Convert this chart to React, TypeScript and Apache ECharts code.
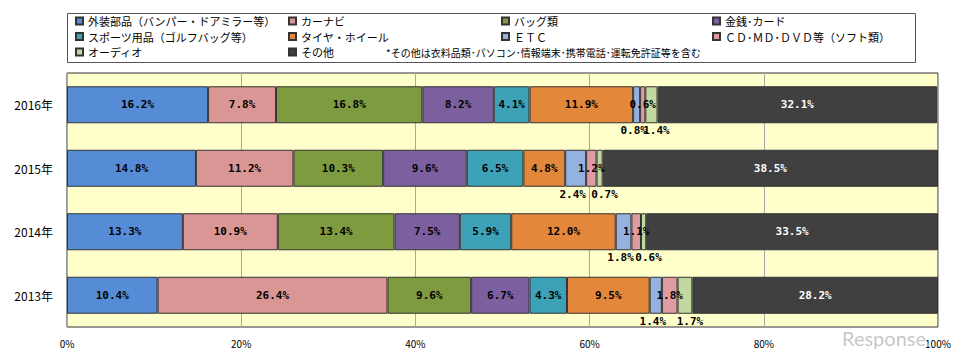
import React, { useEffect, useRef } from "react";
import * as echarts from "echarts";

const years = ["2016年", "2015年", "2014年", "2013年"];
const exterior = [16.2, 14.8, 13.3, 10.4];
const carNavi = [7.8, 11.2, 10.9, 26.4];
const bags = [16.8, 10.3, 13.4, 9.6];
const money = [8.2, 9.6, 7.5, 6.7];
const sports = [4.1, 6.5, 5.9, 4.3];
const tires = [11.9, 4.8, 12.0, 9.5];
const etcDevices = [0.8, 2.4, 1.8, 1.4];
const media = [0.6, 1.2, 1.1, 1.8];
const audio = [1.4, 0.7, 0.6, 1.7];
const other = [32.1, 38.5, 33.5, 28.2];

const names = [
  "外装部品（バンパー・ドアミラー等）",
  "カーナビ",
  "バッグ類",
  "金銭･カード",
  "スポーツ用品（ゴルフバッグ等）",
  "タイヤ・ホイール",
  "ＥＴＣ",
  "ＣＤ･ＭＤ･ＤＶＤ等（ソフト類）",
  "オーディオ",
  "その他",
];
const values = [exterior, carNavi, bags, money, sports, tires, etcDevices, media, audio, other];
const colors = [
  "#568CD6",
  "#D99694",
  "#7E9B40",
  "#7C5F9F",
  "#3DA1B8",
  "#E3873A",
  "#95B1DD",
  "#DE9CA2",
  "#C3D89E",
  "#404040",
];
const labelPos = ["inside", "inside", "inside", "inside", "inside", "inside", "bottom", "inside", "bottom", "inside"];
const labelShift = [0, 0, 0, 0, 0, 0, -3, 0, 5, 0];
const noteText = "*その他は衣料品類･パソコン･情報端末･携帯電話･運転免許証等を含む";

export default function App() {
  const ref = useRef<HTMLDivElement>(null);
  useEffect(() => {
    if (!ref.current) return;
    const chart = echarts.init(ref.current, undefined, { renderer: "svg" });
    const legendCols = [
      { left: 75, items: [names[0], names[4], names[8]] },
      { left: 288, items: [names[1], names[5], names[9]] },
      { left: 501, items: [names[2], names[6]] },
      { left: 712, items: [names[3], names[7]] },
    ];
    chart.setOption({
      animation: false,
      backgroundColor: "#ffffff",
      textStyle: { fontFamily: "Noto Sans CJK JP" },
      legend: legendCols.map((c) => ({
        data: c.items,
        left: c.left,
        top: 14,
        orient: "vertical",
        padding: 0,
        itemGap: 1.5,
        itemWidth: 7,
        itemHeight: 7,
        icon: "rect",
        selectedMode: false,
        textStyle: { fontSize: 11, color: "#000", lineHeight: 14, fontFamily: "Noto Sans CJK JP" },
      })),
      graphic: [
        {
          type: "rect",
          shape: { x: 67.5, y: 13.5, width: 848, height: 49 },
          style: { fill: "none", stroke: "#555", lineWidth: 1 },
        },
        {
          type: "text",
          x: 386,
          y: 52,
          style: {
            text: noteText,
            fontSize: 10,
            fill: "#000",
            fontFamily: "Noto Sans CJK JP",
            verticalAlign: "middle",
          },
        },
        {
          type: "text",
          x: 842,
          y: 338,
          z: 10,
          style: {
            text: "Response.",
            fontSize: 20,
            fill: "#bdbdbd",
            fontFamily: "Lato",
            verticalAlign: "middle",
            opacity: 0.85,
          },
        },
      ],
      grid: {
        left: 67,
        right: 30,
        top: 73,
        bottom: 32,
        show: true,
        backgroundColor: "#FFFFCC",
        borderColor: "#333",
        borderWidth: 1,
      },
      xAxis: {
        type: "value",
        min: 0,
        max: 100,
        interval: 20,
        axisLine: { show: false },
        axisTick: { show: false },
        splitLine: { show: true, lineStyle: { color: "#A8A8A8", width: 1 } },
        axisLabel: { formatter: "{value}%", fontSize: 10, color: "#000", margin: 11, fontFamily: "Noto Sans CJK JP" },
      },
      yAxis: {
        type: "category",
        data: years,
        inverse: true,
        axisLine: { show: false },
        axisTick: { show: false },
        axisLabel: { fontSize: 12, color: "#000", margin: 14, fontFamily: "Noto Sans CJK JP" },
      },
      series: names.map((n, i) => ({
        name: n,
        type: "bar",
        stack: "total",
        barWidth: 37,
        data: values[i],
        itemStyle: { color: colors[i], borderColor: "#333", borderWidth: 1 },
        label: {
          show: true,
          position: labelPos[i],
          distance: 2,
          offset: [labelShift[i], 0],
          formatter: (p: any) => Number(p.value).toFixed(1) + "%",
          fontFamily: "DejaVu Sans Mono",
          fontWeight: "bold",
          fontSize: 11,
          color: i === 9 ? "#ffffff" : "#000000",
        },
      })),
    });
    return () => chart.dispose();
  }, []);
  return <div ref={ref} style={{ width: 968, height: 359, margin: -8 }} />;
}
